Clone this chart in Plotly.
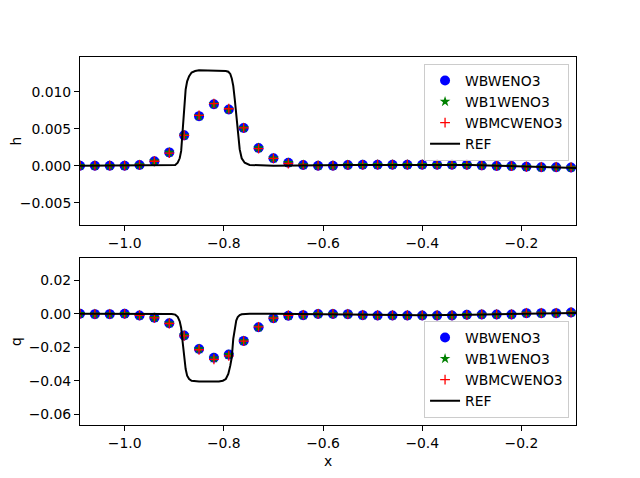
import plotly.graph_objects as go
from plotly.subplots import make_subplots

# cell centres of the numerical solutions
x = [-1.09, -1.06, -1.03, -1.00, -0.97, -0.94, -0.91, -0.88, -0.85, -0.82,
     -0.79, -0.76, -0.73, -0.70, -0.67, -0.64, -0.61, -0.58, -0.55, -0.52,
     -0.49, -0.46, -0.43, -0.40, -0.37, -0.34, -0.31, -0.28, -0.25, -0.22,
     -0.19, -0.16, -0.13, -0.10]

h_wbweno3 = [0.0, 0.0, 0.0, 0.0, 0.0001, 0.0006, 0.0018, 0.0041, 0.0067, 0.0083,
             0.0076, 0.0051, 0.0024, 0.0010, 0.0004, 0.0001, 0.0, 0.0, 0.0001, 0.00012,
             0.00014, 0.00014, 0.00014, 0.00014, 0.00014, 0.00014, 0.00013, 0.00005, -0.00003, -0.00005,
             -0.00014, -0.0002, -0.0002, -0.00023]
h_wb1weno3 = [0.0, 0.0, 0.0, 0.0, 0.0001, 0.0006, 0.0018, 0.0041, 0.0067, 0.0083,
              0.0076, 0.0051, 0.0024, 0.0010, 0.0004, 0.0001, 0.0, 0.0, 0.0001, 0.00012,
              0.00014, 0.00014, 0.00014, 0.00014, 0.00014, 0.00014, 0.00013, 0.00005, -0.00003, -0.00005,
              -0.00014, -0.0002, -0.0002, -0.00023]
h_wbmcweno3 = [0.0, 0.0, 0.0, 0.0, 0.0001, 0.0006, 0.0017, 0.0041, 0.0068, 0.0084,
               0.0077, 0.0051, 0.0023, 0.0010, 0.0003, 0.0001, 0.0, 0.0, 0.0001, 0.00012,
               0.00014, 0.00014, 0.00014, 0.00014, 0.00014, 0.00014, 0.00013, 0.00005, -0.00003, -0.00005,
               -0.00014, -0.0002, -0.0002, -0.00023]

q_wbweno3 = [0.0, -0.0002, -0.0002, 0.0, -0.0010, -0.0024, -0.0056, -0.0130, -0.0210, -0.0263,
             -0.0244, -0.0162, -0.0080, -0.0026, -0.0012, -0.0008, -0.0001, -0.0001, -0.0002, -0.0008,
             -0.0010, -0.0010, -0.0010, -0.0010, -0.0010, -0.0010, -0.0006, -0.0004, -0.0004, -0.0004,
             0.0004, 0.0004, 0.0004, 0.0008]
q_wb1weno3 = [0.0, -0.0002, -0.0002, 0.0, -0.0010, -0.0024, -0.0056, -0.0130, -0.0210, -0.0265,
              -0.0245, -0.0162, -0.0080, -0.0026, -0.0012, -0.0008, -0.0001, -0.0001, -0.0002, -0.0008,
              -0.0010, -0.0010, -0.0010, -0.0010, -0.0010, -0.0010, -0.0006, -0.0004, -0.0004, -0.0004,
              0.0004, 0.0004, 0.0004, 0.0008]
q_wbmcweno3 = [0.0, -0.0002, -0.0002, 0.0, -0.0010, -0.0024, -0.0058, -0.0132, -0.0215, -0.0272,
               -0.0252, -0.0163, -0.0078, -0.0026, -0.0010, -0.0006, -0.0001, -0.0001, -0.0002, -0.0008,
               -0.0010, -0.0010, -0.0010, -0.0010, -0.0010, -0.0010, -0.0006, -0.0004, -0.0004, -0.0004,
               0.0004, 0.0004, 0.0004, 0.0008]

# reference solution (fine grid), sampled
ref_x = [-1.09, -0.95, -0.905, -0.898, -0.893, -0.889, -0.886, -0.883, -0.880, -0.877,
         -0.874, -0.870, -0.865, -0.858, -0.850, -0.810, -0.802, -0.796, -0.791, -0.787,
         -0.784, -0.781, -0.778, -0.775, -0.772, -0.768, -0.764, -0.758, -0.748, -0.70,
         -0.55, -0.40, -0.30, -0.25, -0.20, -0.15, -0.09]
ref_h = [0.0, 0.0, 0.00002, 0.0001, 0.0004, 0.0010, 0.0020, 0.0050, 0.0085, 0.0103,
         0.0114, 0.0121, 0.0126, 0.0128, 0.0129, 0.0129, 0.0128, 0.0128, 0.0127, 0.0124,
         0.0118, 0.0108, 0.0090, 0.0068, 0.0045, 0.0022, 0.0010, 0.0004, 0.0001, 0.0,
         0.0001, 0.00012, 0.0001, 0.0, -0.0001, -0.0002, -0.0003]
ref_q = [0.0, 0.0, -0.0001, -0.0005, -0.0018, -0.0045, -0.0085, -0.0170, -0.0265, -0.0330,
         -0.0370, -0.0390, -0.0400, -0.0404, -0.0405, -0.0405, -0.0400, -0.0390, -0.0360, -0.0310,
         -0.0260, -0.0150, -0.0085, -0.0040, -0.0020, -0.0008, -0.0003, -0.0001, 0.0, 0.0,
         -0.0005, -0.0008, -0.0005, -0.0002, 0.0001, 0.0003, 0.0005]

fnt = dict(family="DejaVu Sans", size=13.9, color="black")

fig = make_subplots(rows=2, cols=1, vertical_spacing=0.0897)


def add_panel(row, y1, y2, y3, yref, legend):
    fig.add_trace(go.Scatter(x=x, y=y1, mode="markers", name="WBWENO3", legend=legend,
                             marker=dict(symbol="circle", size=10, color="blue")), row=row, col=1)
    fig.add_trace(go.Scatter(x=x, y=y2, mode="markers", name="WB1WENO3", legend=legend,
                             marker=dict(symbol="star", size=8, color="green")), row=row, col=1)
    fig.add_trace(go.Scatter(x=x, y=y3, mode="markers", name="WBMCWENO3", legend=legend,
                             marker=dict(symbol="cross-thin", size=7,
                                         line=dict(color="red", width=1.3))), row=row, col=1)
    fig.add_trace(go.Scatter(x=ref_x, y=yref, mode="lines", name="REF", legend=legend,
                             line=dict(color="black", width=2)), row=row, col=1)


add_panel(1, h_wbweno3, h_wb1weno3, h_wbmcweno3, ref_h, "legend")
add_panel(2, q_wbweno3, q_wb1weno3, q_wbmcweno3, ref_q, "legend2")

axis_style = dict(showline=True, mirror=True, linecolor="black", linewidth=1,
                  ticks="outside", ticklen=5, tickwidth=1, tickcolor="black",
                  showgrid=False, zeroline=False, tickfont=fnt, automargin=False)

fig.update_xaxes(range=[-1.09, -0.09], tickvals=[-1.0, -0.8, -0.6, -0.4, -0.2],
                 ticktext=["−1.0", "−0.8", "−0.6", "−0.4", "−0.2"], **axis_style)
fig.update_xaxes(title=dict(text="x", font=fnt, standoff=6), row=2, col=1)

fig.update_yaxes(range=[-0.00801, 0.01469], tickvals=[-0.005, 0.0, 0.005, 0.010],
                 ticktext=["−0.005", "0.000", "0.005", "0.010"],
                 title=dict(text="h", font=fnt, standoff=17), row=1, col=1, **axis_style)
fig.update_yaxes(range=[-0.06647, 0.03335], tickvals=[-0.06, -0.04, -0.02, 0.0, 0.02],
                 ticktext=["−0.06", "−0.04", "−0.02", "0.00", "0.02"],
                 title=dict(text="q", font=fnt, standoff=10), row=2, col=1, **axis_style)

leg = dict(font=fnt, bgcolor="rgba(255,255,255,0.8)", bordercolor="#cccccc", borderwidth=1,
           xanchor="right", x=0.986, tracegroupgap=0, itemwidth=30)

# page body adds 8 px around the figure, so the figure is 8 px smaller here
fig.update_layout(
    width=632, height=470,
    margin=dict(l=72, r=64, t=49, b=53),
    plot_bgcolor="white", paper_bgcolor="white",
    font=fnt,
    legend=dict(yanchor="top", y=0.981, **leg),
    legend2=dict(yanchor="bottom", y=0.019, **leg),
)
fig.update_yaxes(domain=[0.5435, 1.0], row=1, col=1)
fig.update_yaxes(domain=[0.0, 0.4538], row=2, col=1)

fig.write_html("out.html")
